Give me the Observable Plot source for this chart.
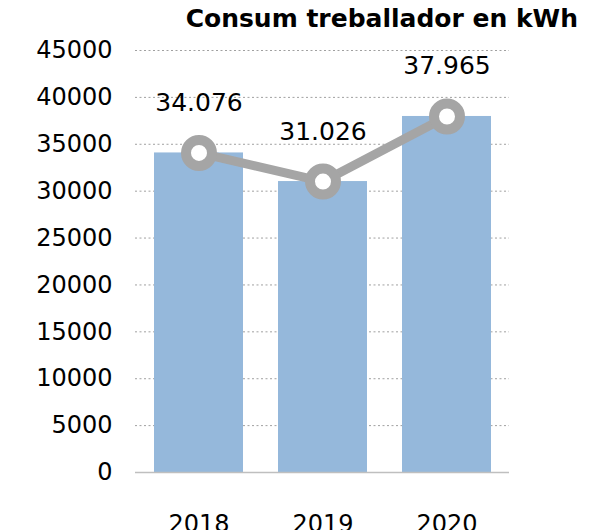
<!DOCTYPE html>
<html>
<head>
<meta charset="utf-8">
<script src="https://cdn.jsdelivr.net/npm/d3@7"></script>
<script src="https://cdn.jsdelivr.net/npm/@observablehq/plot@0.6"></script>
<style>
  html, body { margin: 0; padding: 0; background: #fff; }
  #wrap { position: relative; width: 597px; height: 530px; overflow: hidden; }
  #title { position: absolute; right: 19px; top: 4px; font: bold 25px "DejaVu Sans", sans-serif; color: #000; white-space: nowrap; }
  svg { font-family: "DejaVu Sans", sans-serif; }
</style>
</head>
<body>
<div id="wrap"><div id="title">Consum treballador en kWh</div></div>
<script>
const years = ["2018", "2019", "2020"];
const consum = [34076, 31026, 37965];
const labels = ["34.076", "31.026", "37.965"];
const yTicks = [0, 5000, 10000, 15000, 20000, 25000, 30000, 35000, 40000, 45000];

const data = years.map((y, i) => ({year: y, value: consum[i], label: labels[i]}));

const chart = Plot.plot({
  width: 597,
  height: 530,
  marginTop: 50,
  marginBottom: 58,
  marginLeft: 135,
  marginRight: 88,
  style: {fontSize: "24px", fontFamily: "DejaVu Sans, sans-serif", color: "#000", overflow: "visible"},
  x: {domain: years, paddingInner: 0.285, paddingOuter: 0.145, label: null},
  y: {domain: [0, 45000], label: null},
  marks: [
    Plot.gridY(yTicks, {stroke: "#a0a0a0", strokeOpacity: 1, strokeDasharray: "2,2.5", strokeWidth: 1}),
    Plot.barY(data, {x: "year", y: "value", fill: "#95b8db"}),
    Plot.ruleY([0], {stroke: "#bfbfbf", strokeWidth: 1.5}),
    Plot.axisY(yTicks, {tickSize: 0, tickPadding: 23, tickFormat: d => String(d), label: null, fontSize: 24, letterSpacing: "0.3px"}),
    Plot.axisX({tickSize: 0, tickPadding: 42, label: null, fontSize: 24}),
    Plot.line(data, {x: "year", y: "value", stroke: "#a5a5a5", strokeWidth: 9}),
    Plot.dot(data, {x: "year", y: "value", r: 13, fill: "#fff", stroke: "#a5a5a5", strokeWidth: 10}),
    Plot.text(data, {x: "year", y: "value", text: "label", dy: -50, fontSize: 25, fill: "#000"})
  ]
});
document.getElementById("wrap").prepend(chart);
chart.style.position = "absolute";
chart.style.left = "0";
chart.style.top = "0";
</script>
</body>
</html>
